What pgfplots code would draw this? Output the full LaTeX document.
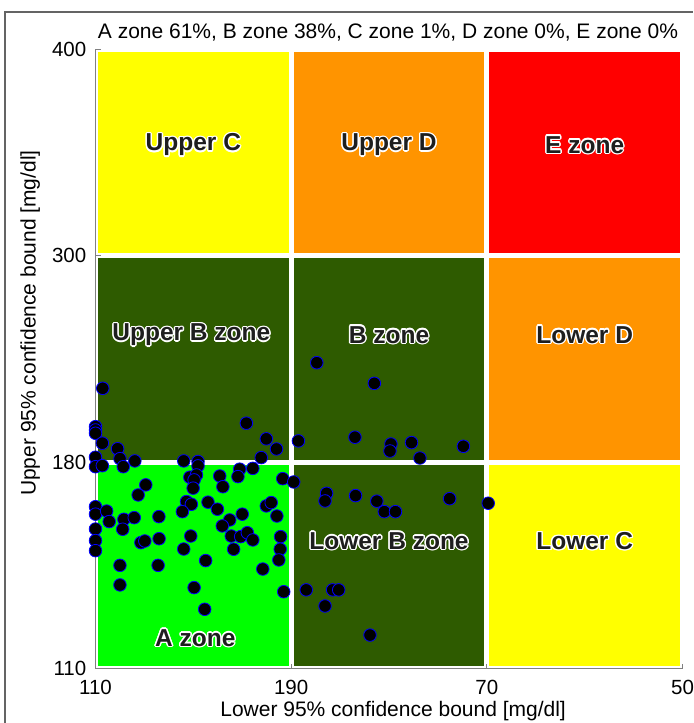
\documentclass[border=0pt]{standalone}
\usepackage{fontspec}
\setmainfont{Liberation Sans}
\usepackage{pgfplots}
\usepackage{pgfplotstable}
\pgfplotsset{compat=1.18}
\usetikzlibrary{calc}
\definecolor{zA}{RGB}{0,255,0}
\definecolor{zB}{RGB}{46,91,0}
\definecolor{zC}{RGB}{255,255,0}
\definecolor{zD}{RGB}{255,148,0}
\definecolor{zE}{RGB}{255,0,0}
\definecolor{axgray}{RGB}{128,128,128}
\definecolor{framegray}{RGB}{100,100,100}
\definecolor{labeltext}{RGB}{30,30,30}
\newcommand\zfont{\fontsize{24.5bp}{29bp}\selectfont\bfseries}
\newcommand\zlabel[2]{%
  \foreach \a in {0,30,...,330}{\node[text=white, font=\zfont] at ($(#1)+(\a:1.4bp)$) {#2};}
  \node[text=labeltext, font=\zfont] at (#1) {#2};}

% points: x = position on lower-bound axis (0=110,1=90,2=70,3=50), y = upper-bound axis (0=110,1=180,2=300,3=400)
\pgfplotstableread{
x y
0.037 1.358
0.000 1.172
0.000 1.156
0.000 1.140
0.035 1.092
0.113 1.065
0.000 1.024
0.125 1.017
0.201 1.006
0.451 1.006
0.524 1.003
0.771 1.189
0.873 1.113
0.925 1.064
0.847 1.022
1.037 1.103
1.131 1.482
1.425 1.382
1.326 1.121
1.510 1.088
1.505 1.054
1.615 1.095
1.658 1.020
1.880 1.077
0.142 0.978
0.000 0.978
0.035 0.983
0.524 0.982
0.737 0.966
0.804 0.970
0.957 0.920
0.635 0.933
0.728 0.930
0.482 0.927
0.516 0.938
0.504 0.914
0.257 0.890
0.651 0.881
0.499 0.874
0.218 0.841
0.465 0.809
0.490 0.796
0.444 0.760
0.575 0.806
0.623 0.772
0.686 0.720
0.648 0.691
0.750 0.748
0.873 0.788
0.898 0.804
0.927 0.739
0.000 0.784
0.000 0.748
0.057 0.763
0.070 0.712
0.145 0.723
0.139 0.675
0.198 0.731
0.324 0.736
0.000 0.676
0.000 0.620
0.000 0.571
0.232 0.610
0.252 0.618
0.325 0.629
0.487 0.642
0.451 0.579
0.694 0.642
0.742 0.639
0.776 0.658
0.804 0.623
0.706 0.578
0.946 0.639
0.944 0.578
0.937 0.526
0.855 0.482
0.563 0.523
0.125 0.500
0.320 0.500
0.125 0.405
0.504 0.392
0.962 0.372
0.558 0.287
1.013 0.904
1.077 0.381
1.181 0.849
1.173 0.812
1.329 0.838
1.438 0.811
1.476 0.760
1.533 0.760
1.810 0.823
1.212 0.381
1.243 0.381
1.173 0.303
1.403 0.162
2.007 0.801
}\pts

\begin{document}
\begin{tikzpicture}[font=\fontsize{21bp}{25bp}\selectfont]
\path[use as bounding box] (-95.5bp,-54.5bp) rectangle (598.5bp,668.5bp);
\begin{axis}[
  scale only axis, width=587bp, height=619bp,
  xmin=0, xmax=3, ymin=0, ymax=3, clip=false,
  axis x line*=bottom, axis y line*=left,
  axis line style={axgray, line width=1.2bp, -},
  xtick={0,1,2,3}, xticklabels={110,190,70,50},
  ytick={0,1,2,3}, yticklabels={110,180,300,400},
  tick style={axgray, line width=0.8bp},
  major tick length=5bp, tick align=inside,
  xticklabel style={anchor=north, inner sep=0pt, yshift=-11bp, font=\fontsize{20.5bp}{24bp}\selectfont},
  yticklabel style={anchor=east, inner sep=0pt, xshift=-9bp, font=\fontsize{20.5bp}{24bp}\selectfont},
  xlabel={Lower 95\% confidence bound [mg/dl]},
  ylabel={Upper 95\% confidence bound [mg/dl]},
  xlabel style={at={(axis description cs:0.507,-0.0687)}, anchor=center, inner sep=0pt},
  ylabel style={at={(axis description cs:-0.1113,0.558)}, anchor=center, inner sep=0pt},
]
% zones
\fill[zA] (axis cs:0.0127,0.0121) rectangle (axis cs:0.9873,0.9879);
\fill[zB] (axis cs:1.0127,0.0121) rectangle (axis cs:1.9873,0.9879);
\fill[zC] (axis cs:2.0127,0.0121) rectangle (axis cs:2.9873,0.9879);
\fill[zB] (axis cs:0.0127,1.0121) rectangle (axis cs:0.9873,1.9879);
\fill[zB] (axis cs:1.0127,1.0121) rectangle (axis cs:1.9873,1.9879);
\fill[zD] (axis cs:2.0127,1.0121) rectangle (axis cs:2.9873,1.9879);
\fill[zC] (axis cs:0.0127,2.0121) rectangle (axis cs:0.9873,2.9879);
\fill[zD] (axis cs:1.0127,2.0121) rectangle (axis cs:1.9873,2.9879);
\fill[zE] (axis cs:2.0127,2.0121) rectangle (axis cs:2.9873,2.9879);
\coordinate (lUC) at (axis cs:0.5,2.538);
\coordinate (lUD) at (axis cs:1.5,2.538);
\coordinate (lE)  at (axis cs:2.5,2.538);
\coordinate (lUB) at (axis cs:0.49,1.617);
\coordinate (lB)  at (axis cs:1.5,1.617);
\coordinate (lLD) at (axis cs:2.5,1.617);
\coordinate (lLB) at (axis cs:1.5,0.618);
\coordinate (lLC) at (axis cs:2.5,0.618);
\coordinate (lA)  at (axis cs:0.51,0.148);
\node[anchor=base, yshift=10.5bp] at (axis cs:1.495,3) {A zone 61\%, B zone 38\%, C zone 1\%, D zone 0\%, E zone 0\%};
\addplot[only marks, mark=*, mark size=6.3bp, mark options={fill=black, draw=blue, line width=0.8bp}] table {\pts};
\end{axis}
\zlabel{lUC}{Upper C}
\zlabel{lUD}{Upper D}
\zlabel{lE}{E zone}
\zlabel{lUB}{Upper B zone}
\zlabel{lB}{B zone}
\zlabel{lLD}{Lower D}
\zlabel{lLB}{Lower B zone}
\zlabel{lLC}{Lower C}
\zlabel{lA}{A zone}
\draw[framegray, line width=1.5bp] (-90.5bp,-60bp) -- (-90.5bp,656.5bp) -- (597.5bp,656.5bp);
\end{tikzpicture}
\end{document}
